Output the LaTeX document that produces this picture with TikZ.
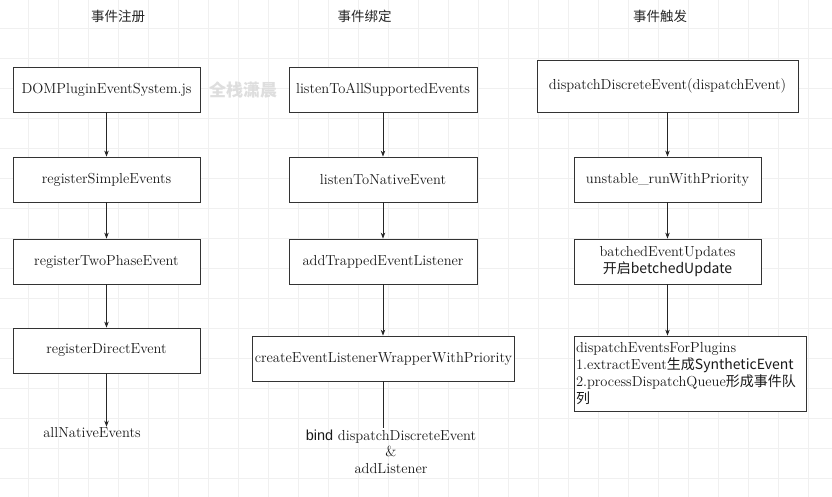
\documentclass[tikz,border=0pt]{standalone}
\usepackage{fontspec}
\newfontfamily\cjk{Noto Sans CJK SC}
\newfontfamily\helv{Liberation Sans}
\usetikzlibrary{arrows.meta}

\begin{document}
\begin{tikzpicture}[x=1pt,y=-1pt,
	box/.style={draw=black!80,fill=white,line width=0.8pt,minimum height=45pt,inner sep=2pt,font=\fontsize{14.5}{17}\selectfont,text=black!90},
	flow/.style={draw=black!85,line width=0.8pt,-{Stealth[length=6pt,width=4.5pt]}},
	plain/.style={font=\fontsize{14.5}{16.5}\selectfont,text=black!90,inner sep=1pt},
	title/.style={font=\cjk\fontsize{13.5}{16}\selectfont,text=black!85}]
	\useasboundingbox (0,0) rectangle (832,497);
	\fill[white] (0,0) rectangle (832,497);
	
	%GRID
	\foreach \g in {28,58,...,808} \draw[black!6] (\g,0)--(\g,497);
	\foreach \g in {28,58,...,478} \draw[black!6] (0,\g)--(832,\g);
	
	%TITLES
	\node[title] (treg) at (118,16) {事件注册};
	\node[title] (tbind) at (364.5,16) {事件绑定};
	\node[title] (tfire) at (660,16) {事件触发};
	\node[font=\cjk\bfseries\fontsize{17}{17}\selectfont,text=black!13] (mark) at (243,90) {全栈潇晨}; %watermark
	
	%REGISTER
	\def\xa{106.5} %centre of first column
	\node[box,minimum width=187pt] (dom) at (\xa,89.5) {DOMPluginEventSystem.js};
	\node[box,minimum width=187pt] (simple) at (\xa,179.5) {registerSimpleEvents};
	\node[box,minimum width=187pt] (twophase) at (\xa,261.5) {registerTwoPhaseEvent};
	\node[box,minimum width=187pt] (direct) at (\xa,350.5) {registerDirectEvent};
	\node[plain] (natives) at (92,433) {allNativeEvents};
	\draw[flow] (dom) -- (simple);
	\draw[flow] (simple) -- (twophase);
	\draw[flow] (twophase) -- (direct);
	\draw[flow] (direct) -- (direct |- natives.north);
	
	%BIND
	\def\xb{383} %centre of second column
	\node[box,minimum width=188pt] (allsupp) at (\xb,89.5) {listenToAllSupportedEvents};
	\node[box,minimum width=188pt] (native) at (\xb,179.5) {listenToNativeEvent};
	\node[box,minimum width=188pt] (trapped) at (\xb,261.5) {addTrappedEventListener};
	\node[box,minimum width=261pt] (wrapper) at (\xb+0.5,358.5) {createEventListenerWrapperWithPriority};
	\node[plain,align=center] (bindtxt) at (391,451.5) {{\helv bind} dispatchDiscreteEvent\\\&\\addListener};
	\draw[flow] (allsupp) -- (native);
	\draw[flow] (native) -- (trapped);
	\draw[flow] (trapped) -- (trapped |- wrapper.north);
	\draw[black!85,line width=0.8pt] (wrapper.south -| \xb,0) -- (bindtxt.north -| \xb,0);
	
	%FIRE
	\def\xc{667.5} %centre of third column
	\node[box,minimum width=261pt,minimum height=52pt] (discrete) at (\xc,86) {dispatchDiscreteEvent(dispatchEvent)};
	\node[box,minimum width=187pt] (runprio) at (\xc,179.5) {unstable\_runWithPriority};
	\node[box,minimum width=187pt,align=center] (batched) at (\xc,261.5) {batchedEventUpdates\\{\cjk\fontsize{14}{17}\selectfont 开启betchedUpdate}};
	\node[box,text width=228pt,minimum height=75pt,align=left] (plugins) at (690,373.5) {dispatchEventsForPlugins\\1.extractEvent{\cjk\fontsize{14}{17}\selectfont 生成SyntheticEvent}\\2.processDispatchQueue{\cjk\fontsize{14}{17}\selectfont 形成事件队}\\{\cjk\fontsize{14}{17}\selectfont 列}};
	\draw[flow] (discrete) -- (runprio);
	\draw[flow] (runprio) -- (batched);
	\draw[flow] (batched) -- (batched |- plugins.north);
\end{tikzpicture}
\end{document}
